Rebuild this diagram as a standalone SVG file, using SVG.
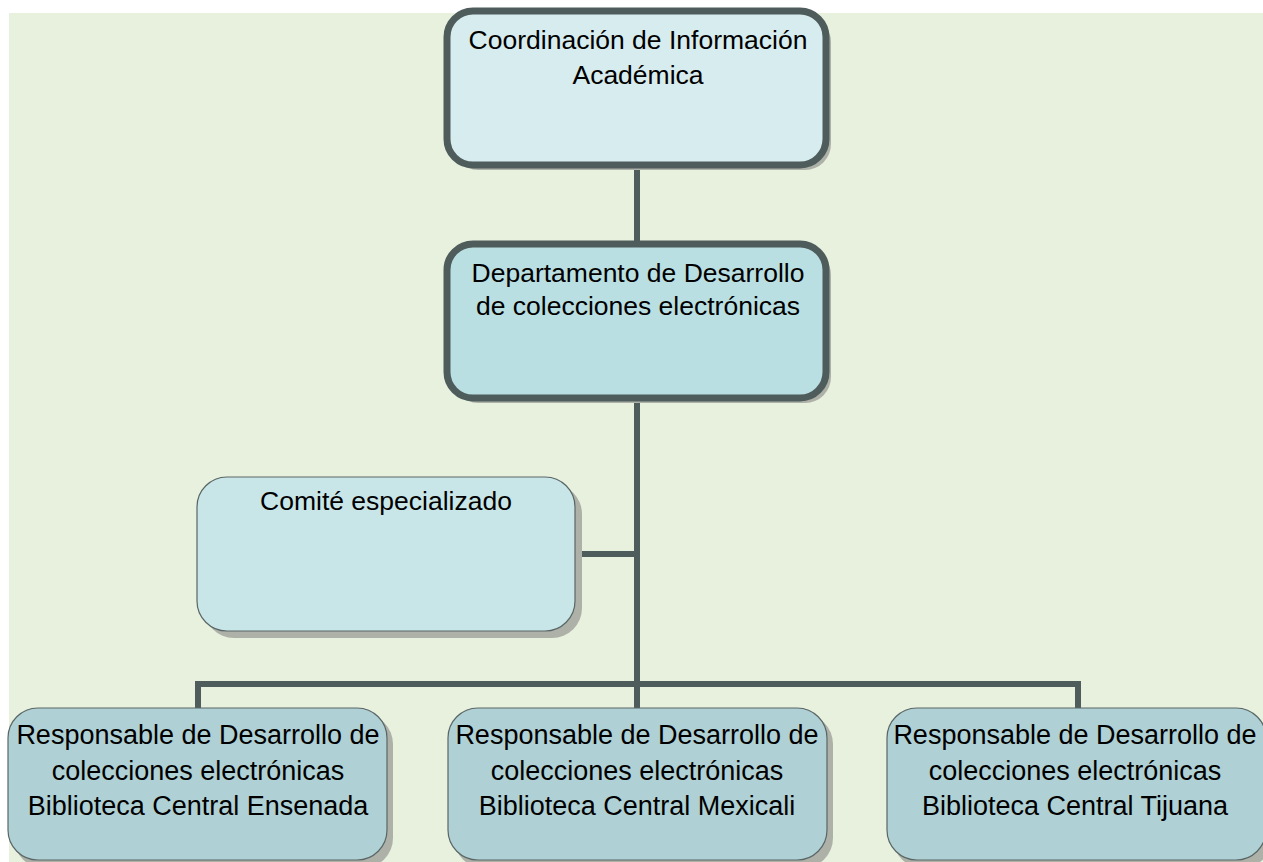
<svg xmlns="http://www.w3.org/2000/svg" width="1263" height="862" viewBox="0 0 1263 862">
<style>
  .t { font-family: "Liberation Sans", Arial, sans-serif; font-size: 26.5px; fill: #000; text-anchor: middle; }
  .tb { font-size: 27px; }
  .conn { stroke: #4e5c5c; stroke-width: 6; fill: none; stroke-linecap: square; }
  .shadow { fill: #adb1a8; }
  .heavy { stroke: #4e5c5c; stroke-width: 7; }
  .thin { stroke: #5a6666; stroke-width: 1.2; }
</style>
<rect x="0" y="0" width="1263" height="862" fill="#ffffff"/>
<rect x="9" y="13" width="1254" height="849" fill="#e8f0de"/>
<g id="connectors">
  <line class="conn" x1="637" y1="165" x2="637" y2="244"/>
  <line class="conn" x1="637" y1="398" x2="637" y2="708"/>
  <line class="conn" x1="575" y1="554" x2="637" y2="554"/>
  <polyline class="conn" points="198,708 198,684 1078,684 1078,708"/>
</g>
<g id="node-coordinacion">
  <rect class="shadow" x="452" y="16" width="379" height="154" rx="26"/>
  <rect class="heavy" x="447" y="11" width="379" height="154" rx="26" fill="#d7ecee"/>
  <text class="t" x="638" y="49">Coordinación de Información</text>
  <text class="t" x="638" y="84">Académica</text>
</g>
<g id="node-departamento">
  <rect class="shadow" x="452" y="249" width="379" height="154" rx="26"/>
  <rect class="heavy" x="447" y="244" width="379" height="154" rx="26" fill="#b9dfe2"/>
  <text class="t" x="638" y="282">Departamento de Desarrollo</text>
  <text class="t" x="638" y="315">de colecciones electrónicas</text>
</g>
<g id="node-comite">
  <rect class="shadow" x="204" y="484" width="378" height="154" rx="30"/>
  <rect class="thin" x="197" y="477" width="378" height="154" rx="30" fill="#c8e6e8"/>
  <text class="t" x="386" y="510">Comité especializado</text>
</g>
<g id="node-ensenada">
  <rect class="shadow" x="14" y="714" width="379" height="154" rx="30"/>
  <rect class="thin" x="8" y="708" width="379" height="152" rx="30" fill="#afd0d4"/>
  <text class="t tb" x="198" y="744">Responsable de Desarrollo de</text>
  <text class="t tb" x="198" y="780">colecciones electrónicas</text>
  <text class="t tb" x="198" y="815">Biblioteca Central Ensenada</text>
</g>
<g id="node-mexicali">
  <rect class="shadow" x="454" y="714" width="379" height="154" rx="30"/>
  <rect class="thin" x="448" y="708" width="379" height="152" rx="30" fill="#afd0d4"/>
  <text class="t tb" x="637" y="744">Responsable de Desarrollo de</text>
  <text class="t tb" x="637" y="780">colecciones electrónicas</text>
  <text class="t tb" x="637" y="815">Biblioteca Central Mexicali</text>
</g>
<g id="node-tijuana">
  <rect class="shadow" x="893" y="714" width="379" height="154" rx="30"/>
  <rect class="thin" x="887" y="708" width="379" height="152" rx="30" fill="#afd0d4"/>
  <text class="t tb" x="1075" y="744">Responsable de Desarrollo de</text>
  <text class="t tb" x="1075" y="780">colecciones electrónicas</text>
  <text class="t tb" x="1075" y="815">Biblioteca Central Tijuana</text>
</g>
</svg>
